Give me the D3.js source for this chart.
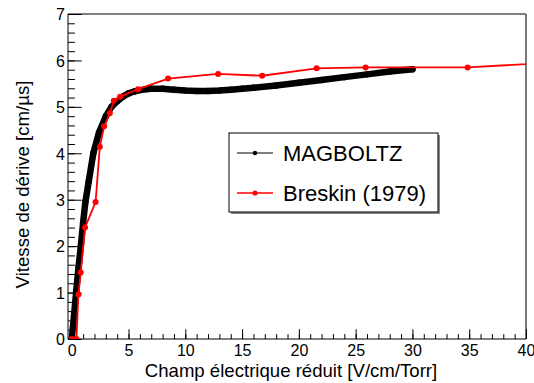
<!DOCTYPE html>
<html>
<head>
<meta charset="utf-8">
<script src="https://cdn.jsdelivr.net/npm/d3@7"></script>
<style>
  body { margin: 0; background: #fff; }
  svg { display: block; font-family: "Liberation Sans", Arial, sans-serif; }
</style>
</head>
<body>
<svg id="drift-chart"></svg>
<script>
// MAGBOLTZ simulation (E in V/cm/Torr, v in cm/us)
const magboltzE = [0, 0.2, 0.4, 0.6, 0.8, 1.0, 1.2, 1.5, 1.9, 2.4, 3.0, 3.5, 4.0, 4.5, 5.0, 5.5, 6.0, 7.0, 8.0, 9.0, 10, 11, 12, 13, 14, 15, 16, 18, 20, 22, 24, 26, 28, 30];
const magboltzV = [0, 0.5, 1.05, 1.55, 2.0, 2.5, 2.95, 3.4, 4.0, 4.45, 4.8, 5.0, 5.12, 5.22, 5.29, 5.33, 5.36, 5.39, 5.39, 5.37, 5.35, 5.34, 5.34, 5.35, 5.37, 5.39, 5.41, 5.46, 5.52, 5.58, 5.64, 5.70, 5.76, 5.81];

// Breskin (1979) measurements
const breskinE = [0, 0.41, 0.59, 0.79, 1.17, 2.1, 2.47, 2.85, 3.35, 3.7, 4.26, 5.84, 8.48, 12.89, 16.77, 21.56, 25.88, 34.86, 45];
const breskinV = [0, 0, 0.96, 1.43, 2.4, 2.95, 4.14, 4.58, 4.86, 5.13, 5.22, 5.38, 5.61, 5.71, 5.67, 5.83, 5.85, 5.85, 5.99];

const xTicks = [0, 5, 10, 15, 20, 25, 30, 35, 40];
const yTicks = [0, 1, 2, 3, 4, 5, 6, 7];
const legendLabels = ["MAGBOLTZ", "Breskin (1979)"];

class DriftChart {
    constructor() {
        this.initVis();
    }

    initVis() {
        let vis = this;

        vis.width = 534;
        vis.height = 383;
        vis.margin = {left: 68, right: 8, top: 14, bottom: 44};
        vis.innerW = vis.width - vis.margin.left - vis.margin.right;
        vis.innerH = vis.height - vis.margin.top - vis.margin.bottom;

        vis.svg = d3.select("#drift-chart")
            .attr("width", vis.width)
            .attr("height", vis.height);

        vis.xScale = d3.scaleLinear()
            .domain([-0.33, 40])
            .range([vis.margin.left, vis.margin.left + vis.innerW]);
        vis.yScale = d3.scaleLinear()
            .domain([0, 7])
            .range([vis.margin.top + vis.innerH, vis.margin.top]);

        vis.svg.append("defs").append("clipPath")
            .attr("id", "plot-clip")
            .append("rect")
            .attr("x", vis.margin.left)
            .attr("y", vis.margin.top)
            .attr("width", vis.innerW)
            .attr("height", vis.innerH);

        vis.drawAxes();
        vis.renderVis();
        vis.drawLegend();
    }

    drawAxes() {
        let vis = this;
        let x0 = vis.margin.left, x1 = vis.margin.left + vis.innerW;
        let y0 = vis.margin.top + vis.innerH, y1 = vis.margin.top;

        // frame
        vis.svg.append("line").attr("x1", x0).attr("x2", x1).attr("y1", y1).attr("y2", y1)
            .attr("stroke", "#000");
        vis.svg.append("line").attr("x1", x1).attr("x2", x1).attr("y1", y1).attr("y2", y0)
            .attr("stroke", "#777").attr("stroke-width", 2);

        // ticks drawn inward, ROOT style
        let xMinor = d3.range(0, 41, 1);
        let yMinor = d3.range(0, 7.01, 0.2);

        let xAxis = d3.axisBottom(vis.xScale)
            .tickValues(xMinor)
            .tickSize(-4.9)
            .tickFormat("");
        let xg = vis.svg.append("g").attr("transform", `translate(0,${y0})`).call(xAxis);
        xg.select(".domain").remove();
        xg.selectAll(".tick line").attr("stroke", "#000");

        let xMajor = d3.axisBottom(vis.xScale)
            .tickValues(xTicks)
            .tickSize(-9.8)
            .tickFormat(d => d);
        let xg2 = vis.svg.append("g").attr("transform", `translate(0,${y0})`).call(xMajor);
        xg2.select(".domain").attr("stroke", "#000").attr("d", `M${x0},0H${x1}`);
        xg2.selectAll(".tick line").attr("stroke", "#000");
        xg2.selectAll(".tick text")
            .attr("y", 0)
            .attr("dy", 16.5)
            .attr("font-size", 16)
            .attr("font-family", "Liberation Sans, Arial, sans-serif")
            .attr("fill", "#000");

        let yAxis = d3.axisLeft(vis.yScale)
            .tickValues(yMinor)
            .tickSize(-6.9)
            .tickFormat("");
        let yg = vis.svg.append("g").attr("transform", `translate(${x0},0)`).call(yAxis);
        yg.select(".domain").remove();
        yg.selectAll(".tick line").attr("stroke", "#000");

        let yMajor = d3.axisLeft(vis.yScale)
            .tickValues(yTicks)
            .tickSize(-13.7)
            .tickFormat(d => d);
        let yg2 = vis.svg.append("g").attr("transform", `translate(${x0},0)`).call(yMajor);
        yg2.select(".domain").attr("stroke", "#000").attr("d", `M0,${y0}V${y1}`);
        yg2.selectAll(".tick line").attr("stroke", "#000");
        yg2.selectAll(".tick text")
            .attr("x", -3)
            .attr("dy", "0.36em")
            .attr("font-size", 16)
            .attr("font-family", "Liberation Sans, Arial, sans-serif")
            .attr("fill", "#000");

        // axis titles
        vis.svg.append("text")
            .attr("x", 291)
            .attr("y", 376.5)
            .attr("text-anchor", "middle")
            .attr("font-size", 18.6)
            .text("Champ électrique réduit [V/cm/Torr]");

        vis.svg.append("text")
            .attr("transform", "translate(28.5,184.5) rotate(-90)")
            .attr("text-anchor", "middle")
            .attr("font-size", 18.6)
            .text("Vitesse de dérive [cm/µs]");
    }

    renderVis() {
        let vis = this;

        vis.line = d3.line()
            .x(d => vis.xScale(d[0]))
            .y(d => vis.yScale(d[1]));

        let black = magboltzE.map((e, i) => [e, magboltzV[i]]);
        let red = breskinE.map((e, i) => [e, breskinV[i]]);

        let plot = vis.svg.append("g").attr("clip-path", "url(#plot-clip)");

        plot.append("path")
            .datum(black)
            .attr("d", vis.line)
            .attr("fill", "none")
            .attr("stroke", "#000")
            .attr("stroke-width", 6.5)
            .attr("stroke-linejoin", "round")
            .attr("stroke-linecap", "round");

        plot.selectAll(".mag-pt")
            .data(black)
            .join("circle")
            .attr("class", "mag-pt")
            .attr("cx", d => vis.xScale(d[0]))
            .attr("cy", d => vis.yScale(d[1]))
            .attr("r", 3.2)
            .attr("fill", "#000");

        plot.append("path")
            .datum(red)
            .attr("d", vis.line)
            .attr("fill", "none")
            .attr("stroke", "#ff0000")
            .attr("stroke-width", 1.8);

        plot.selectAll(".bre-pt")
            .data(red)
            .join("circle")
            .attr("class", "bre-pt")
            .attr("cx", d => vis.xScale(d[0]))
            .attr("cy", d => vis.yScale(d[1]))
            .attr("r", 3)
            .attr("fill", "#ff0000");
    }

    drawLegend() {
        let vis = this;
        let lx = 229, ly = 133, lw = 209, lh = 79;
        let colors = ["#000", "#ff0000"];

        let g = vis.svg.append("g");
        // shadow
        g.append("rect")
            .attr("x", lx + 2).attr("y", ly + 2)
            .attr("width", lw).attr("height", lh)
            .attr("fill", "#888");
        g.append("rect")
            .attr("x", lx).attr("y", ly)
            .attr("width", lw).attr("height", lh)
            .attr("fill", "#fff")
            .attr("stroke", "#000");

        let rows = g.selectAll(".entry")
            .data(legendLabels)
            .join("g")
            .attr("class", "entry")
            .attr("transform", (d, i) => `translate(0,${ly + 20 + i * 40})`);

        rows.append("line")
            .attr("x1", lx + 8).attr("x2", lx + 44)
            .attr("stroke", (d, i) => colors[i])
            .attr("stroke-width", (d, i) => i === 0 ? 1.2 : 1.5);
        rows.append("circle")
            .attr("cx", lx + 26)
            .attr("r", (d, i) => i === 0 ? 2.2 : 2.6)
            .attr("fill", (d, i) => colors[i]);
        rows.append("text")
            .attr("x", lx + 54)
            .attr("dy", "0.36em")
            .attr("font-size", 22)
            .text(d => d);
    }
}

new DriftChart();
</script>
</body>
</html>
